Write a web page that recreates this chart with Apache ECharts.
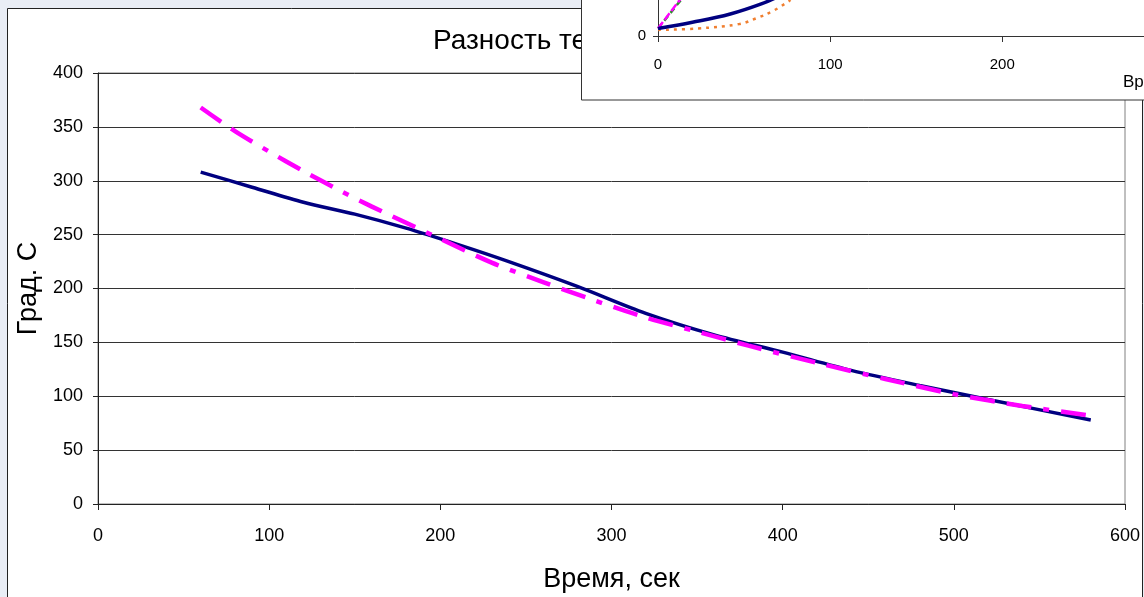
<!DOCTYPE html>
<html>
<head>
<meta charset="utf-8">
<script src="https://cdn.jsdelivr.net/npm/echarts@6/dist/echarts.min.js"></script>
<style>
html,body{margin:0;padding:0;background:#e9edf5;}
#c{width:1144px;height:597px;}
</style>
</head>
<body>
<div id="c"></div>
<script>
// Main chart data
const timeMeasured = [60, 90, 120, 150, 180, 210, 240, 280, 320, 360, 400, 440, 480, 520, 580];
const tempMeasured = [308, 294, 280, 269, 256, 241, 225, 202, 177, 157, 141, 124, 110, 97, 78];
const timeTrend = [60, 80, 100, 120, 140, 160, 180, 200, 230, 260, 290, 320, 350, 380, 420, 460, 500, 540, 580];
const tempTrend = [368, 346, 327, 309, 292, 276, 261, 246, 224, 206, 189, 173, 160, 147, 131, 116, 102, 91, 82];
const yTicks = [0, 50, 100, 150, 200, 250, 300, 350, 400];
const xTicks = [0, 100, 200, 300, 400, 500, 600];

// Inset chart data (only its lower part is visible)
const insetTimeNavy = [0, 20, 42, 60, 70];
const insetNavy = [21, 38, 61, 89, 110];
const insetTimeOrange = [0, 23, 47, 57, 67, 77];
const insetOrange = [17, 21, 33, 49, 70, 100];
const insetTimeMagenta = [0, 15];
const insetMagenta = [21, 115];
const insetTimeGreen = [0, 15];
const insetGreen = [21, 110];

const pairs = (xs, ys) => xs.map((x, i) => [x, ys[i]]);
const FONT = 'Liberation Sans, Arial, sans-serif';

const chart = echarts.init(document.getElementById('c'), null, {renderer: 'canvas'});
chart.setOption({
  backgroundColor: '#e9edf5',
  animation: false,
  title: {
    text: 'Разность температур',
    left: 428, top: 22,
    textStyle: {fontFamily: FONT, fontSize: 28, fontWeight: 'normal', color: '#000'}
  },
  graphic: [
    {type: 'rect', z: -10, shape: {x: 7.5, y: 8.5, width: 1135, height: 600},
     style: {fill: '#fff', stroke: '#222', lineWidth: 1}},
    {type: 'rect', z: 100, shape: {x: 581.5, y: -5, width: 600, height: 105},
     style: {fill: '#fff', stroke: '#333', lineWidth: 1}},
    {type: 'line', z: 110, shape: {x1: 1139, y1: 36.5, x2: 1144, y2: 36.5},
     style: {stroke: '#333', lineWidth: 1}},
    {type: 'text', z: 110, left: 1123, top: 74,
     style: {text: 'Время, сек', fill: '#000', font: '17px ' + FONT}}
  ],
  grid: [
    {left: 98, top: 73, width: 1027, height: 431, show: true, borderColor: '#808080', borderWidth: 1,
     backgroundColor: 'transparent', outerBoundsMode: 'none', containLabel: false},
    {left: 658, top: 0, width: 482, height: 36, show: false, outerBoundsMode: 'none', containLabel: false}
  ],
  xAxis: [
    {type: 'value', gridIndex: 0, min: 0, max: 600, interval: 100,
     name: 'Время, сек', nameLocation: 'middle', nameGap: 62,
     nameTextStyle: {fontFamily: FONT, fontSize: 27, color: '#000'},
     axisLine: {lineStyle: {color: '#222', width: 1}},
     axisTick: {show: true, length: 6, lineStyle: {color: '#222'}},
     axisLabel: {fontFamily: FONT, fontSize: 18, color: '#000', margin: 23},
     splitLine: {show: false}},
    {type: 'value', gridIndex: 1, min: 0, max: 280, interval: 100, z: 110,
     axisLine: {lineStyle: {color: '#333', width: 1}},
     axisTick: {show: true, length: 6, lineStyle: {color: '#333'}},
     axisLabel: {fontFamily: FONT, fontSize: 15, color: '#000', margin: 21, showMaxLabel: false},
     splitLine: {show: false}}
  ],
  yAxis: [
    {type: 'value', gridIndex: 0, min: 0, max: 400, interval: 50,
     name: 'Град. С', nameLocation: 'middle', nameGap: 52, nameRotate: 90,
     nameTextStyle: {fontFamily: FONT, fontSize: 27, color: '#000'},
     axisLine: {show: true, lineStyle: {color: '#222', width: 1}},
     axisTick: {show: true, length: 5, lineStyle: {color: '#222'}},
     axisLabel: {fontFamily: FONT, fontSize: 18, color: '#000', margin: 15},
     splitLine: {show: true, lineStyle: {color: '#333', width: 1}}},
    {type: 'value', gridIndex: 1, min: 0, max: 100, interval: 100, z: 110,
     axisLine: {show: true, lineStyle: {color: '#333', width: 1}},
     axisTick: {show: true, length: 5, lineStyle: {color: '#333'}},
     axisLabel: {fontFamily: FONT, fontSize: 15, color: '#000', margin: 12, showMaxLabel: false},
     splitLine: {show: false}}
  ],
  series: [
    {type: 'line', xAxisIndex: 0, yAxisIndex: 0, data: pairs(timeMeasured, tempMeasured),
     showSymbol: false, smooth: 0.3, lineStyle: {color: '#000080', width: 3.5}, z: 3},
    {type: 'line', xAxisIndex: 0, yAxisIndex: 0, data: pairs(timeTrend, tempTrend),
     showSymbol: false, smooth: 0.3, lineStyle: {color: '#ff00ff', width: 4.5, type: [25, 12, 25, 12, 6, 12], cap: 'butt'}, z: 4},
    {type: 'line', xAxisIndex: 1, yAxisIndex: 1, data: pairs(insetTimeOrange, insetOrange),
     showSymbol: false, smooth: 0.4, lineStyle: {color: '#f07f30', width: 2.5, type: [3, 5]}, z: 120},
    {type: 'line', xAxisIndex: 1, yAxisIndex: 1, data: pairs(insetTimeGreen, insetGreen),
     showSymbol: false, lineStyle: {color: '#2e8b2e', width: 2.5, type: [6, 4]}, z: 121},
    {type: 'line', xAxisIndex: 1, yAxisIndex: 1, data: pairs(insetTimeMagenta, insetMagenta),
     showSymbol: false, lineStyle: {color: '#ff00ff', width: 2.5, type: [8, 3]}, z: 122},
    {type: 'line', xAxisIndex: 1, yAxisIndex: 1, data: pairs(insetTimeNavy, insetNavy),
     showSymbol: false, smooth: 0.4, lineStyle: {color: '#000080', width: 3.5}, z: 123}
  ]
});
</script>
</body>
</html>
